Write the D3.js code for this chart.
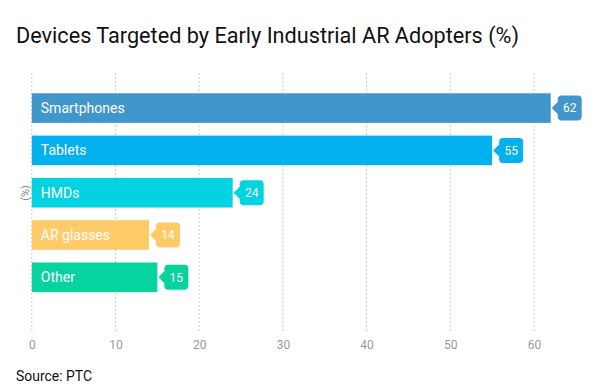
<html>
<head>
<script src="https://d3js.org/d3.v7.min.js"></script>
<style>
body { margin: 0; background: #fff; font-family: Roboto, 'Noto Sans', sans-serif; }
</style>
</head>
<body>
<svg width="600" height="388"></svg>
<script>
var categories = ["Smartphones", "Tablets", "HMDs", "AR glasses", "Other"];
var values = [62, 55, 24, 14, 15];
var colors = ["#4196cb", "#03b0f0", "#02d3e0", "#fecb68", "#07d3a0"];
var ticks = [0, 10, 20, 30, 40, 50, 60];

var svg = d3.select("svg");

var x = d3.scaleLinear().domain([0, 60]).range([31.8, 534]);
var y = d3.scaleBand().domain(categories).range([80.6, 304.8])
  .paddingInner(0.3).paddingOuter(0.3);

// title
svg.append("text").attr("x", 16).attr("y", 43)
  .attr("textLength", 503).attr("lengthAdjust", "spacingAndGlyphs")
  .style("font-size", "22px").style("fill", "#111")
  .text("Devices Targeted by Early Industrial AR Adopters (%)");

// grid
svg.append("g").selectAll("line").data(ticks).enter().append("line")
  .attr("x1", function (d) { return x(d); })
  .attr("x2", function (d) { return x(d); })
  .attr("y1", 73).attr("y2", 332)
  .attr("stroke", "#c8ccd4").attr("stroke-width", 1)
  .attr("stroke-dasharray", "2,2");

// axis labels
var xAxis = d3.axisBottom(x).tickValues(ticks).tickSize(0).tickPadding(0);
var gx = svg.append("g").attr("transform", "translate(0,340)").call(xAxis);
gx.select(".domain").remove();
gx.selectAll("text").style("font-family", "Roboto, sans-serif")
  .style("font-size", "12px").style("fill", "#999");

// y label
svg.append("text").attr("transform", "translate(29,193) rotate(-90)")
  .attr("text-anchor", "middle").style("font-size", "11px").style("fill", "#888")
  .text("(%)");

var rows = svg.append("g").selectAll("g").data(categories).enter().append("g");

rows.append("rect")
  .attr("x", x(0))
  .attr("y", function (d) { return y(d); })
  .attr("width", function (d, i) { return x(values[i]) - x(0); })
  .attr("height", y.bandwidth())
  .attr("fill", function (d, i) { return colors[i]; });

rows.append("text")
  .attr("x", x(0) + 9)
  .attr("y", function (d) { return y(d) + y.bandwidth() / 2; })
  .attr("dy", "0.35em")
  .style("font-size", "14px").style("fill", "#fff")
  .text(function (d) { return d; });

// value callouts
rows.append("path")
  .attr("d", function (d, i) {
    var x0 = x(values[i]) + 1, cy = y(d) + y.bandwidth() / 2;
    var bx = x0 + 6, w = 24, h = 25, r = 4, t = cy - h / 2;
    return "M" + x0 + "," + cy +
      "L" + bx + "," + (cy - 6) +
      "L" + bx + "," + (t + r) +
      "Q" + bx + "," + t + " " + (bx + r) + "," + t +
      "L" + (bx + w - r) + "," + t +
      "Q" + (bx + w) + "," + t + " " + (bx + w) + "," + (t + r) +
      "L" + (bx + w) + "," + (t + h - r) +
      "Q" + (bx + w) + "," + (t + h) + " " + (bx + w - r) + "," + (t + h) +
      "L" + (bx + r) + "," + (t + h) +
      "Q" + bx + "," + (t + h) + " " + bx + "," + (t + h - r) +
      "L" + bx + "," + (cy + 6) + "Z";
  })
  .attr("fill", function (d, i) { return colors[i]; });

rows.append("text")
  .attr("x", function (d, i) { return x(values[i]) + 1 + 6 + 12; })
  .attr("y", function (d) { return y(d) + y.bandwidth() / 2; })
  .attr("dy", "0.35em").attr("text-anchor", "middle")
  .style("font-size", "12px").style("fill", "#fff")
  .text(function (d, i) { return values[i]; });

// source
svg.append("text").attr("x", 16).attr("y", 381)
  .attr("textLength", 76).attr("lengthAdjust", "spacingAndGlyphs")
  .style("font-size", "15px").style("fill", "#111")
  .text("Source: PTC");
</script>
</body>
</html>
